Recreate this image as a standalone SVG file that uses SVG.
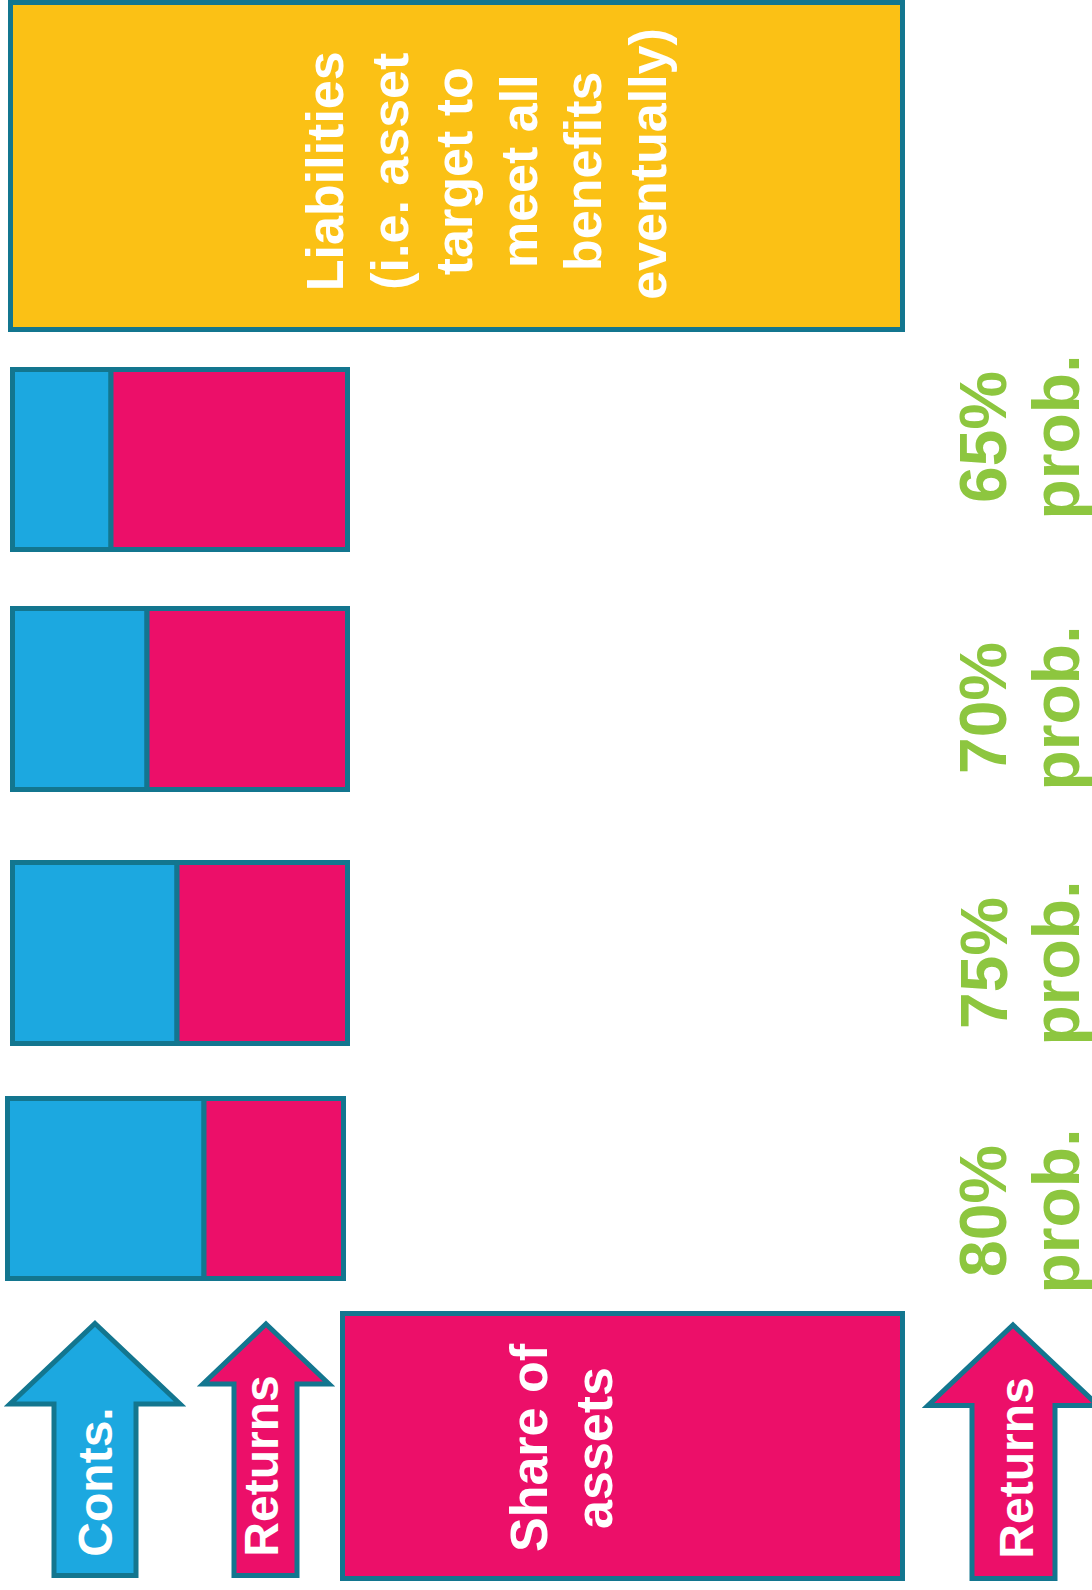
<svg xmlns="http://www.w3.org/2000/svg" width="1092" height="1590" viewBox="0 0 1092 1590">
<style>
.bd{stroke:#13768F;stroke-width:5;stroke-linejoin:miter}
.y{fill:#FBC115}
.b{fill:#1CA8E0}
.p{fill:#EC0F69}
.wt{font-family:"Liberation Sans",Arial,sans-serif;font-weight:bold;fill:#FFFFFF;text-anchor:middle}
.gt{font-family:"Liberation Sans",Arial,sans-serif;font-weight:bold;fill:#8DC63F;text-anchor:middle;font-size:66px}
</style>
<rect width="1092" height="1590" fill="#FFFFFF"/>
<g id="liabilities">
<rect class="y bd" x="10.5" y="2.5" width="892" height="327"/>
<text class="wt" font-size="52" transform="translate(0,164) rotate(-90)">
<tspan x="0" y="343">Liabilities</tspan>
<tspan x="0" y="407.5">(i.e. asset</tspan>
<tspan x="0" y="472">target to</tspan>
<tspan x="0" y="536.5">meet all</tspan>
<tspan x="0" y="601">benefits</tspan>
<tspan x="0" y="665.5">eventually)</tspan>
</text>
</g>
<g id="bar65">
<rect class="b bd" x="12.5" y="369.5" width="98.5" height="180"/>
<rect class="p bd" x="111" y="369.5" width="236.5" height="180"/>
</g>
<g id="bar70">
<rect class="b bd" x="12.5" y="608.5" width="134.5" height="181"/>
<rect class="p bd" x="147" y="608.5" width="200.5" height="181"/>
</g>
<g id="bar75">
<rect class="b bd" x="12.5" y="862.5" width="164.5" height="181"/>
<rect class="p bd" x="177" y="862.5" width="170.5" height="181"/>
</g>
<g id="bar80">
<rect class="b bd" x="7.5" y="1098.5" width="196.5" height="180"/>
<rect class="p bd" x="204" y="1098.5" width="139.5" height="180"/>
</g>
<g id="prob65">
<text class="gt" transform="translate(0,437) rotate(-90)"><tspan x="0" y="1006">65%</tspan><tspan x="0" y="1079">prob.</tspan></text>
</g>
<g id="prob70">
<text class="gt" transform="translate(0,708) rotate(-90)"><tspan x="0" y="1006">70%</tspan><tspan x="0" y="1079">prob.</tspan></text>
</g>
<g id="prob75">
<text class="gt" transform="translate(0,963) rotate(-90)"><tspan x="0" y="1007">75%</tspan><tspan x="0" y="1079">prob.</tspan></text>
</g>
<g id="prob80">
<text class="gt" transform="translate(0,1211) rotate(-90)"><tspan x="0" y="1006">80%</tspan><tspan x="0" y="1079">prob.</tspan></text>
</g>
<g id="conts">
<path class="b bd" d="M95,1323.5 L180,1404 L136,1404 L136,1575.5 L54,1575.5 L54,1404 L10,1404 Z"/>
<text class="wt" font-size="48" transform="translate(112,1482) rotate(-90)" x="0" y="0">Conts.</text>
</g>
<g id="returns1">
<path class="p bd" d="M266,1324 L329,1384 L297,1384 L297,1575.5 L234,1575.5 L234,1384 L203,1384 Z"/>
<text class="wt" font-size="48" transform="translate(278,1466) rotate(-90)" x="0" y="0">Returns</text>
</g>
<g id="share">
<rect class="p bd" x="342.5" y="1313.5" width="560" height="265"/>
<text class="wt" font-size="52" transform="translate(0,1448) rotate(-90)"><tspan x="0" y="547">Share of</tspan><tspan x="0" y="612">assets</tspan></text>
</g>
<g id="returns2">
<path class="p bd" d="M1013,1325 L1098,1405.5 L1055,1405.5 L1055,1578.5 L972,1578.5 L972,1405.5 L928,1405.5 Z"/>
<text class="wt" font-size="48" transform="translate(1033,1468) rotate(-90)" x="0" y="0">Returns</text>
</g>
<g id="connectors"/>
</svg>
